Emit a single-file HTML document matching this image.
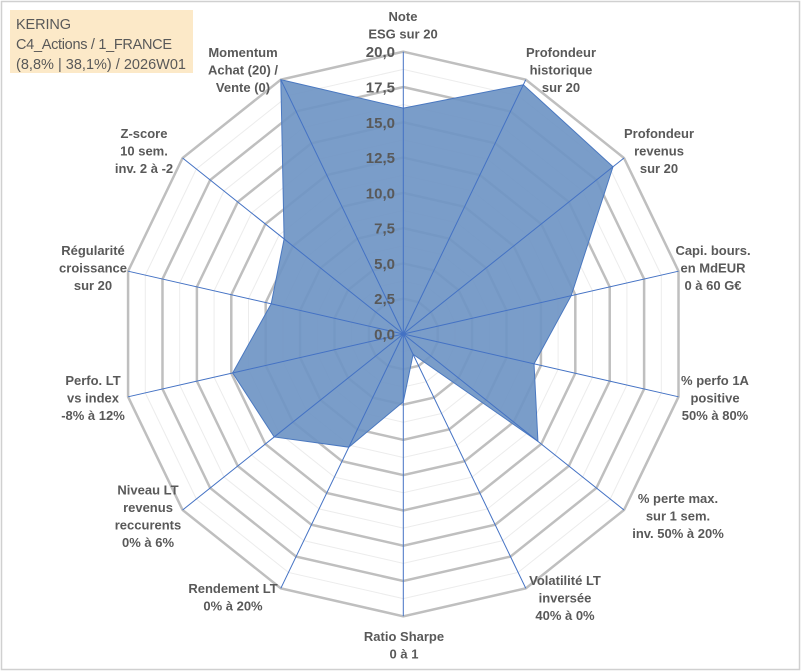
<!DOCTYPE html>
<html><head><meta charset="utf-8"><style>
html,body{margin:0;padding:0;background:#fff}
svg{display:block}
text{font-family:"Liberation Sans",sans-serif}
</style></head><body>
<svg id="chart" width="801" height="671" viewBox="0 0 801 671" xmlns="http://www.w3.org/2000/svg">
<rect x="1.5" y="1.5" width="798" height="668" fill="#fff" stroke="#d0d0d0" stroke-width="1.5"/>
<g id="grid"></g>
<g id="series"></g>
<g id="ticks"></g>
<g id="labels"></g>
<g>
<rect x="10" y="10" width="183" height="63" fill="#FCE9C8"/>
<text x="16" y="29" font-size="14.5" fill="#595959" textLength="55">KERING</text>
<text x="16" y="49" font-size="14.5" fill="#595959" textLength="156">C4_Actions / 1_FRANCE</text>
<text x="16" y="69" font-size="14.5" fill="#595959" textLength="170">(8,8% | 38,1%) / 2026W01</text>
</g>
</svg>
<script>
const categories = [
 ["Note","ESG sur 20"],
 ["Profondeur","historique","sur 20"],
 ["Profondeur","revenus","sur 20"],
 ["Capi. bours.","en MdEUR","0 à 60 G€"],
 ["% perfo 1A","positive","50% à 80%"],
 ["% perte max.","sur 1 sem.","inv. 50% à 20%"],
 ["Volatilité LT","inversée","40% à 0%"],
 ["Ratio Sharpe","0 à 1"],
 ["Rendement LT","0% à 20%"],
 ["Niveau LT","revenus","reccurents","0% à 6%"],
 ["Perfo. LT","vs index","-8% à 12%"],
 ["Régularité","croissance","sur 20"],
 ["Z-score","10 sem.","inv. 2 à -2"],
 ["Momentum","Achat (20) /","Vente (0)"]
];
const values = [16.0, 19.6, 19.0, 12.2, 9.5, 12.2, 1.6, 4.8, 8.9, 11.7, 12.4, 9.6, 10.8, 20.0];
const tickLabels = ["0,0","2,5","5,0","7,5","10,0","12,5","15,0","17,5","20,0"];
const labelCenters = [[403,25],[561,70],[659,151],[713,268],[715,398],[678,516],[565,598],[404,645],[233,597],[148,516],[93,398],[93,268],[144,151],[243,70]];

const NS="http://www.w3.org/2000/svg";
const cx=403.3, cy=334, R=282.3, vmax=20;
const n=categories.length;
function ang(i){return -Math.PI/2 + i*2*Math.PI/n;}
function pt(i,v){const r=v/vmax*R;return [cx+r*Math.cos(ang(i)), cy+r*Math.sin(ang(i))];}
function mk(tag,attrs,parent){const e=document.createElementNS(NS,tag);for(const k in attrs)e.setAttribute(k,attrs[k]);parent.appendChild(e);return e;}

const grid=document.getElementById('grid');
for(let k=1;k<=16;k++){
  const v=k*1.25;
  const major=(k%2===0);
  const pts=[];for(let i=0;i<n;i++)pts.push(pt(i,v).join(','));
  const g=mk('polygon',{points:pts.join(' '),fill:'none',stroke:major?'#bfbfbf':'#ececec','stroke-width':major?2.5:1},grid);
  
  
}
const series=document.getElementById('series');
const spts=values.map((v,i)=>pt(i,v).join(','));
const poly=mk('polygon',{points:spts.join(' '),fill:'#6f95c4','fill-opacity':'0.92',stroke:'#4a78c0','stroke-width':1},series);


for(let i=0;i<n;i++){
  const e=pt(i,vmax);
  const l=mk('line',{x1:cx,y1:cy,x2:e[0],y2:e[1],stroke:'#4472C4','stroke-width':1},series);
  
  
}
const ticks=document.getElementById('ticks');
tickLabels.forEach((t,k)=>{
  const y=cy-(k*2.5)/vmax*R;
  const tx=mk('text',{x:395,y:y+5.5,'text-anchor':'end','font-size':15,'font-weight':'bold',fill:'#595959'},ticks);
  tx.textContent=t;
  
  
});
const labels=document.getElementById('labels');
categories.forEach((lines,i)=>{
  const [x,y]=labelCenters[i];
  const lh=17.5;
  const t=mk('text',{x:x,'text-anchor':'middle','font-size':13,'font-weight':'bold',fill:'#595959'},labels);
  
  
  lines.forEach((s,j)=>{
    const ts=mk('tspan',{x:x,y:y-(lines.length-1)*lh/2+j*lh+4.5},t);
    ts.textContent=s;
  });
});
</script>
</body></html>
